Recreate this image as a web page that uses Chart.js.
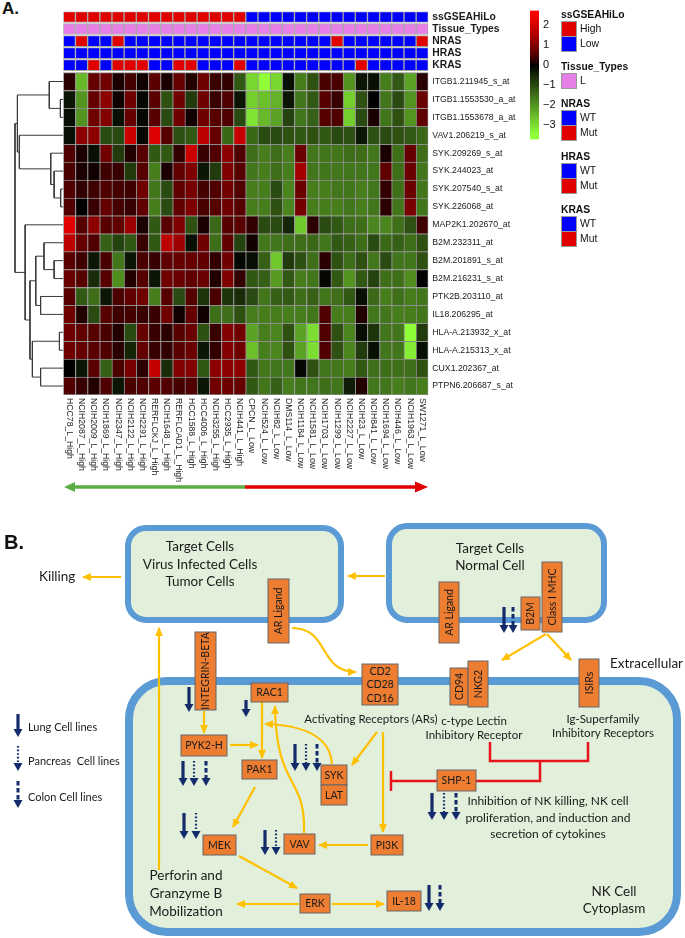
<!DOCTYPE html>
<html>
<head>
<meta charset="utf-8">
<title>ssGSEA heatmap and NK cell signalling</title>
<script src="https://cdn.jsdelivr.net/npm/chart.js@4.4.1/dist/chart.umd.min.js"></script>
<style>
  html, body { margin: 0; padding: 0; background: #fff; }
  body { width: 685px; height: 938px; position: relative; overflow: hidden; font-family: "Liberation Sans", Arial, sans-serif; color: #111; }
  canvas, svg, .abs { position: absolute; }
  #panelA { left: 2px; top: -1px; font: bold 17px "Liberation Sans", Arial, sans-serif; line-height: 20px; }
  .lgTitle { position: absolute; font: bold 10.3px "Liberation Sans", Arial, sans-serif; line-height: 12px; white-space: nowrap; }
  .lgBox { position: absolute; width: 16px; height: 16px; border: 1px solid #9a9a9a; box-sizing: border-box; }
  .lgText { position: absolute; font: 10.4px "Liberation Sans", Arial, sans-serif; line-height: 12px; white-space: nowrap; }
</style>
</head>
<body>
<div id="panelA" class="abs">A.</div>
<canvas id="dendro" width="64" height="500" style="left:0;top:0"></canvas>
<canvas id="heat" width="685" height="500" style="left:0;top:0"></canvas>
<canvas id="scalebar" width="40" height="150" style="left:520px;top:0"></canvas>
<div id="legend"></div>
<svg id="panelB" width="685" height="938" style="left:0;top:0" xmlns="http://www.w3.org/2000/svg"></svg>
<script>
// ---- data ----
const columns = ['HCC78_L_High', 'NCIH2087_L_High', 'NCIH2009_L_High', 'NCIH1869_L_High', 'NCIH2347_L_High',
  'NCIH2122_L_High', 'NCIH2291_L_High', 'RERFLCKJ_L_High', 'NCIH1648_L_High', 'RERFLCAD1_L_High',
  'HCC1588_L_High', 'HCC4006_L_High', 'NCIH3255_L_High', 'HCC2935_L_High', 'NCIH441_L_High',
  'CPCN_L_Low', 'NCIH524_L_Low', 'NCIH82_L_Low', 'DMS114_L_Low', 'NCIH1184_L_Low', 'NCIH1581_L_Low',
  'NCIH1703_L_Low', 'NCIH1299_L_Low', 'NCIH2227_L_Low', 'NCIH23_L_Low', 'NCIH841_L_Low',
  'NCIH1694_L_Low', 'NCIH446_L_Low', 'NCIH1963_L_Low', 'SW1271_L_Low'];

const rowNames = ['ITGB1.211945_s_at', 'ITGB1.1553530_a_at', 'ITGB1.1553678_a_at', 'VAV1.206219_s_at',
  'SYK.209269_s_at', 'SYK.244023_at', 'SYK.207540_s_at', 'SYK.226068_at', 'MAP2K1.202670_at',
  'B2M.232311_at', 'B2M.201891_s_at', 'B2M.216231_s_at', 'PTK2B.203110_at', 'IL18.206295_at',
  'HLA-A.213932_x_at', 'HLA-A.215313_x_at', 'CUX1.202367_at', 'PTPN6.206687_s_at'];

// scaled expression, one list per row (30 cell lines each)
const heatValues = [
  [0.2, -2.5, 0.7, 0.8, 0.1, 0.4, 0.05, 0.6, 0.1, 0.7, 0.15, 0.8, 0.3, 0.25, -1.2, -2.9, -3.5, -2.9, -0.2, -1.7, -1.1, 0.45, 0.45, -2.0, -0.3, -0.2, -1.7, -1.2, -2.2, 0.2],
  [-0.3, -2.0, 0.7, 1.1, 0.05, 0.8, -0.1, 0.6, -1.1, 0.8, -0.8, 0.8, 0.3, 0.5, -0.3, -2.8, -2.6, -2.4, -0.3, -1.6, -1.2, 0.55, 0.3, -2.8, -1.1, 0.0, -1.6, -1.0, -2.0, 0.75],
  [-0.2, -2.0, 0.8, 1.0, -0.2, 0.7, -0.1, 0.55, -1.0, 0.8, 0.05, 0.8, 0.55, 0.5, -1.0, -3.1, -2.5, -2.2, -0.9, -1.6, -1.3, 0.55, 0.5, -2.8, -1.0, 0.1, -1.6, -1.1, -2.0, 0.65],
  [-0.2, 1.1, 1.1, -1.0, -1.0, 1.9, -0.1, 2.1, 0.55, -1.1, -1.2, 1.7, 0.7, -1.4, 1.8, -1.4, -1.0, -1.0, -1.1, -1.2, -1.1, -1.2, -1.0, -1.1, -0.3, -1.1, -1.0, -1.1, -1.2, -1.4],
  [0.5, 0.1, -0.2, 0.8, -0.8, 0.15, 0.55, -1.2, -1.2, 0.25, 1.9, 0.3, 0.5, 1.1, 0.5, -1.5, -1.7, -1.5, -1.7, 0.75, -1.6, -1.6, -1.6, -1.5, -1.5, -1.6, 0.1, -1.5, 0.7, -1.5],
  [0.45, 0.1, 0.05, 0.35, 0.3, -0.8, 0.55, -1.7, 0.1, 0.65, 0.95, -0.3, -0.8, 0.95, 0.55, -1.6, -1.7, -1.5, -1.7, 1.4, -1.6, -1.6, -1.6, -1.6, -1.6, -1.6, 0.65, -1.5, 0.75, -1.6],
  [0.5, 0.25, 0.35, 0.5, 0.4, 0.35, 0.8, -1.6, -1.0, 0.65, 0.9, 0.4, 0.5, 0.85, 0.5, -1.7, -1.7, -1.0, -1.8, 0.75, -1.7, -1.7, -1.6, -1.6, -1.7, -1.6, 0.25, -1.5, 0.75, -1.6],
  [0.5, 0.0, 0.3, 0.7, 0.4, 0.3, 0.65, -1.7, -1.0, 0.65, 0.95, 0.45, 0.55, 0.8, 0.55, -1.7, -1.7, -1.1, -1.8, 0.85, -1.7, -1.7, -1.7, -1.6, -1.7, -1.6, 0.2, -1.6, 0.9, -1.6],
  [2.2, 0.55, 1.1, 0.55, 0.65, 1.3, 0.1, -1.2, 0.6, 0.95, -1.1, 0.1, -1.4, 0.55, 0.6, 0.25, -1.0, -1.0, -0.5, -2.7, 0.2, -1.0, -1.2, -1.5, -1.5, -1.8, -1.8, -1.5, -1.1, 0.35],
  [1.7, 0.7, 0.5, -1.3, -0.9, -1.2, 0.3, -1.2, 1.7, 1.3, -0.2, 0.8, -1.5, 0.65, -0.9, 0.05, -1.6, -1.6, -1.5, -1.5, -1.4, -1.6, -1.2, -1.3, -1.5, -1.0, -1.4, -1.3, -1.5, -1.1],
  [0.6, 0.35, -0.3, 0.45, -1.6, -0.3, 0.45, 0.3, 0.65, 0.7, 0.7, 0.65, 0.25, 0.8, -0.1, -0.2, -1.3, -2.7, -0.8, -1.1, -1.5, 0.2, -1.1, -1.5, -1.1, -1.6, -1.0, -1.6, -1.6, -1.1],
  [0.75, 0.55, -0.6, 0.55, -1.9, 0.15, 0.55, -0.3, 0.8, 0.75, 0.65, 0.75, 0.15, 0.95, 0.25, -1.2, -1.3, -2.1, -1.2, -1.7, -1.6, -0.1, -1.2, -2.0, -1.2, -0.9, -1.5, -1.5, -1.9, 0.0],
  [0.55, -1.2, -1.5, -0.3, 0.45, 0.65, 0.8, -1.7, 0.55, -1.0, 0.55, -0.7, 0.45, -0.7, -0.6, -1.0, -1.6, -1.3, -1.2, -1.5, -1.3, -1.6, -1.5, -1.2, -0.2, -1.4, -1.7, -1.5, -1.7, -1.6],
  [0.8, 0.15, -1.0, 0.55, 0.35, 0.4, 0.3, 0.3, 0.8, 0.05, 0.7, 0.05, -1.5, -1.5, -1.1, -1.7, -1.7, -1.7, -1.7, -1.7, -1.6, 0.5, -1.7, -1.7, 0.15, -1.6, -1.6, -1.7, -1.7, -1.6],
  [0.8, 0.65, 0.55, 0.45, 0.15, -1.0, 0.7, 0.3, 0.2, 0.55, 0.75, -1.1, 0.3, 1.0, 0.8, -2.2, -1.7, -1.8, -1.1, -2.2, -3.0, 0.5, -1.1, -1.8, -0.2, -0.7, -1.6, -1.6, -3.5, -0.8],
  [0.8, 0.7, 0.6, 0.5, 0.2, -0.5, 0.7, 0.3, 0.25, 0.6, 0.75, -0.3, 0.25, 1.0, 0.8, -2.6, -1.7, -1.8, -1.1, -2.2, -3.0, 0.5, -1.1, -1.8, -0.8, -0.2, -1.6, -1.6, -3.2, -0.2],
  [0.0, -0.3, 0.6, -1.3, 0.45, 0.9, 0.2, 1.8, -0.6, 1.0, 1.0, -1.2, 1.1, 1.1, 1.1, -1.2, -1.6, -1.6, -1.6, -0.1, -1.1, -1.6, -1.6, -1.7, -1.2, -1.5, -1.5, -1.5, -1.5, -1.1],
  [0.5, 0.3, 0.15, 0.5, -0.3, 0.45, 0.5, 0.6, 0.5, 0.4, 0.5, -0.3, 0.8, 0.8, 0.7, -1.2, -1.6, -1.3, -1.7, -1.6, -1.6, -1.5, -1.6, -0.4, 0.15, -1.6, -1.6, -1.7, -1.6, -1.7]
];

// column annotations
const ssGSEAHiLo = columns.map(c => c.endsWith('High') ? 'High' : 'Low');
const tissueTypes = columns.map(() => 'L');
const nrasMutIdx = [1, 4, 22, 29];
const hrasMutIdx = [];
const krasMutIdx = [2, 4, 5, 6, 9, 10, 14, 24];

// row dendrogram, hclust style: negative = row (1-based), positive = earlier merge (1-based); third = height
const dendroMerge = [
  [-2, -3, 0.6], [-1, 1, 2.9], [-7, -8, 0.55], [-6, 3, 1.9], [-5, 4, 2.6], [-4, 5, 9.1], [2, 6, 9.5],
  [-15, -16, 0.8], [-11, -12, 1.9], [-10, 9, 4.0], [-13, -14, 4.7], [10, 11, 5.7], [-17, -18, 4.7],
  [8, 13, 6.4], [12, 14, 6.9], [-9, 15, 7.9], [7, 16, 10]
];

const scaleMin = -3.7, scaleMax = 2.7;
const scaleTicks = [2, 1, 0, -1, -2, -3];

// ---- styling ----
const RED = '#e00000', BLUE = '#0000ff', PINK = '#e67fe6';
const LABEL_FONT = '"Liberation Sans", Arial, sans-serif';

function cellColor(v) {
  if (v >= 0) {
    const t = Math.min(v / 2.6, 1);
    return `rgb(${Math.round(255 * Math.pow(t, 0.7))},0,0)`;
  }
  const g = Math.min(255, 74 * -v);
  return `rgb(${Math.round(g * 0.56)},${Math.round(g)},${Math.round(g * 0.22)})`;
}

// ---- heatmap as stacked bars ----
const ROW_H = 1, ANN_H = 0.615, ANN_GAP = 0.056, BLOCK_GAP = 0.11;
const datasets = [];
const tickDefs = [];
let base = 0;

for (let r = rowNames.length - 1; r >= 0; r--) {
  const bottomRow = r === rowNames.length - 1;
  datasets.push({
    label: rowNames[r],
    data: columns.map(() => ROW_H),
    backgroundColor: heatValues[r].map(cellColor),
    borderColor: '#8e8e8e',
    borderWidth: c => ({ top: 1, left: 1, right: c.dataIndex === columns.length - 1 ? 1 : 0, bottom: bottomRow ? 1 : 0 }),
    borderSkipped: false
  });
  tickDefs.push({ value: base + ROW_H / 2, name: rowNames[r], bold: false });
  base += ROW_H;
}

function spacer(h) {
  datasets.push({ label: '', data: columns.map(() => h), backgroundColor: 'rgba(0,0,0,0)', borderWidth: 0 });
  base += h;
}

const annotations = [ // bottom to top
  { name: 'KRAS', colors: columns.map((c, i) => krasMutIdx.includes(i) ? RED : BLUE) },
  { name: 'HRAS', colors: columns.map((c, i) => hrasMutIdx.includes(i) ? RED : BLUE) },
  { name: 'NRAS', colors: columns.map((c, i) => nrasMutIdx.includes(i) ? RED : BLUE) },
  { name: 'Tissue_Types', colors: tissueTypes.map(() => PINK) },
  { name: 'ssGSEAHiLo', colors: ssGSEAHiLo.map(v => v === 'High' ? RED : BLUE) }
];
annotations.forEach((a, k) => {
  spacer(k === 0 ? BLOCK_GAP : ANN_GAP);
  datasets.push({
    label: a.name,
    data: columns.map(() => ANN_H),
    backgroundColor: a.colors,
    borderColor: '#a6a6a6',
    borderWidth: 1,
    borderSkipped: false
  });
  tickDefs.push({ value: base + ANN_H / 2, name: a.name, bold: true });
  base += ANN_H;
});
const total = base;

const colLabels = {
  id: 'colLabels',
  afterDraw(chart) {
    const { ctx, chartArea } = chart;
    const x = chart.scales.x;
    ctx.save();
    ctx.font = '8.7px ' + LABEL_FONT;
    ctx.fillStyle = '#1e1e1e';
    ctx.textAlign = 'left';
    ctx.textBaseline = 'middle';
    columns.forEach((c, i) => {
      ctx.save();
      ctx.translate(x.getPixelForValue(i), chartArea.bottom + 3);
      ctx.rotate(Math.PI / 2);
      ctx.fillText(c, 0, 0);
      ctx.restore();
    });
    ctx.restore();
  }
};

new Chart(document.getElementById('heat'), {
  type: 'bar',
  data: { labels: columns, datasets },
  options: {
    responsive: false,
    animation: false,
    events: [],
    layout: { padding: { left: 63.3, top: 11.5, right: 685 - 428.3 - 110, bottom: 105 } },
    datasets: { bar: { categoryPercentage: 1, barPercentage: 1 } },
    plugins: { legend: { display: false }, tooltip: { enabled: false }, colors: { enabled: false } },
    scales: {
      x: { stacked: true, display: false },
      y: {
        stacked: true, position: 'right', min: 0, max: total,
        grid: { display: false, drawTicks: false },
        border: { display: false },
        afterBuildTicks: s => { s.ticks = tickDefs.map(t => ({ value: t.value, name: t.name, bold: t.bold })); },
        afterFit: s => { s.width = 110; },
        ticks: {
          autoSkip: false,
          padding: 4,
          color: '#1a1a1a',
          callback: (v, i, ticks) => ticks[i].name,
          font: c => (c.tick && c.tick.bold)
            ? { family: LABEL_FONT, size: 10.3, weight: 'bold' }
            : { family: LABEL_FONT, size: 8.7 }
        }
      }
    }
  },
  plugins: [colLabels]
});

// ---- dendrogram ----
const nodes = [];
function nodePos(ref) {
  if (ref < 0) return { y: rowNames.length - (-ref - 1) - 0.5, h: 0 };
  return nodes[ref - 1];
}
const dendroSets = dendroMerge.map(([a, b, h]) => {
  const A = nodePos(a), B = nodePos(b);
  nodes.push({ y: (A.y + B.y) / 2, h });
  return {
    data: [{ x: A.h, y: A.y }, { x: h, y: A.y }, { x: h, y: B.y }, { x: B.h, y: B.y }],
    showLine: true, borderColor: '#3a3a3a', borderWidth: 1, pointRadius: 0, clip: false
  };
});
const rootH = dendroMerge[dendroMerge.length - 1][2];

new Chart(document.getElementById('dendro'), {
  type: 'scatter',
  data: { datasets: dendroSets },
  options: {
    responsive: false, animation: false, events: [],
    layout: { padding: { left: 15, right: 0.7, top: 11.5, bottom: 105 } },
    plugins: { legend: { display: false }, tooltip: { enabled: false } },
    scales: {
      x: { type: 'linear', reverse: true, min: 0, max: rootH, display: false },
      y: { type: 'linear', min: 0, max: total, display: false }
    }
  }
});

// ---- colour key ----
new Chart(document.getElementById('scalebar'), {
  type: 'bar',
  data: {
    labels: ['key'],
    datasets: [{
      data: [[scaleMin, scaleMax]],
      borderWidth: 0,
      categoryPercentage: 1,
      barPercentage: 1,
      backgroundColor: c => {
        const ch = c.chart, y = ch.scales.y;
        if (!ch.chartArea || !y) return '#000';
        const g = ch.ctx.createLinearGradient(0, y.getPixelForValue(scaleMax), 0, y.getPixelForValue(scaleMin));
        for (let i = 0; i <= 64; i++) {
          g.addColorStop(i / 64, cellColor(scaleMax - (scaleMax - scaleMin) * i / 64));
        }
        return g;
      }
    }]
  },
  options: {
    responsive: false, animation: false, events: [],
    layout: { padding: { left: 10, top: 9, bottom: 9, right: 0 } },
    plugins: { legend: { display: false }, tooltip: { enabled: false } },
    scales: {
      x: { display: false },
      y: {
        position: 'right', min: scaleMin, max: scaleMax,
        grid: { display: false, drawTicks: false }, border: { display: false },
        afterBuildTicks: s => { s.ticks = scaleTicks.map(v => ({ value: v })); },
        afterFit: s => { s.width = 21; },
        ticks: {
          padding: 4, color: '#111', font: { family: LABEL_FONT, size: 11 },
          callback: v => v < 0 ? '\u2212' + Math.abs(v) : String(v)
        }
      }
    }
  }
});

// ---- annotation legend ----
const legendGroups = [
  { title: 'ssGSEAHiLo', top: 15, items: [['High', RED], ['Low', BLUE]] },
  { title: 'Tissue_Types', top: 67, items: [['L', PINK]] },
  { title: 'NRAS', top: 104, items: [['WT', BLUE], ['Mut', RED]] },
  { title: 'HRAS', top: 157, items: [['WT', BLUE], ['Mut', RED]] },
  { title: 'KRAS', top: 210, items: [['WT', BLUE], ['Mut', RED]] }
];
const legendEl = document.getElementById('legend');
let lg = '';
legendGroups.forEach(g => {
  lg += `<div class="lgTitle" style="left:561px;top:${g.top - 6}px">${g.title}</div>`;
  g.items.forEach(([name, col], k) => {
    const y = g.top + 6 + k * 15;
    lg += `<div class="lgBox" style="left:561px;top:${y}px;background:${col}"></div>`;
    lg += `<div class="lgText" style="left:580px;top:${y + 2}px">${name}</div>`;
  });
});
legendEl.innerHTML = lg;

// ---- panel B schematic ----
const NAVY = '#132a6b', YEL = '#ffc000', INH = '#e8141c', ORANGE = '#ed7d31';
const TXT = 'font-family="Lato, \'Open Sans\', sans-serif"';
let s = `<defs><marker id="ya" viewBox="0 0 10 10" refX="9" refY="5" markerWidth="4" markerHeight="4" orient="auto"><path d="M0,0.5 L10,5 L0,9.5 z" fill="${YEL}"/></marker></defs>`;

// panel A direction arrow
s += `<line x1="72" y1="487" x2="245" y2="487" stroke="#5aac44" stroke-width="3.5"/>`;
s += `<polygon points="64,487 75,482 75,492" fill="#5aac44"/>`;
s += `<line x1="245" y1="487" x2="418" y2="487" stroke="${RED}" stroke-width="3.5"/>`;
s += `<polygon points="428,487 415,481.5 415,492.5" fill="${RED}"/>`;

s += `<text x="4" y="549" font-family="'Liberation Sans', Arial" font-weight="bold" font-size="20" fill="#111">B.</text>`;

// cell outlines
s += `<rect x="128" y="528" width="213" height="92" rx="18" fill="#e2efda" stroke="#5b9bd5" stroke-width="6"/>`;
s += `<rect x="389" y="526" width="215" height="94" rx="18" fill="#e2efda" stroke="#5b9bd5" stroke-width="6"/>`;
s += `<rect x="129" y="681" width="548" height="251" rx="38" fill="#e2efda" stroke="#5b9bd5" stroke-width="8"/>`;

function text(x, y, str, size, anchor) {
  return `<text x="${x}" y="${y}" ${TXT} font-size="${size}" fill="#1a1a1a" text-anchor="${anchor || 'middle'}">${str}</text>`;
}
function yArrow(d) {
  return `<path d="${d}" fill="none" stroke="${YEL}" stroke-width="2.2" marker-end="url(#ya)"/>`;
}
function box(x, y, w, h, lines, vertical) {
  let out = `<rect x="${x}" y="${y}" width="${w}" height="${h}" fill="${ORANGE}" stroke="#666" stroke-width="1"/>`;
  if (vertical) {
    out += `<text transform="translate(${x + w / 2 + 3.6},${y + h / 2}) rotate(-90)" ${TXT} font-size="10.5" fill="#1a1a1a" text-anchor="middle">${lines[0]}</text>`;
  } else {
    const step = 13.2, top = y + h / 2 - (lines.length - 1) * step / 2;
    lines.forEach((l, i) => { out += `<text x="${x + w / 2}" y="${top + i * step + 3.8}" ${TXT} font-size="10.5" fill="#1a1a1a" text-anchor="middle">${l}</text>`; });
  }
  return out;
}
function navy(x, y1, y2, kind) {
  const w = kind === 'solid' ? 3.2 : kind === 'dotted' ? 2.2 : 3;
  const dash = kind === 'solid' ? '' : kind === 'dotted' ? 'stroke-dasharray="1.6 2"' : 'stroke-dasharray="4.5 2.5"';
  return `<line x1="${x}" y1="${y1}" x2="${x}" y2="${y2 - 7}" stroke="${NAVY}" stroke-width="${w}" ${dash}/>` +
    `<path d="M${x - 4.5},${y2 - 8} L${x + 4.5},${y2 - 8} L${x},${y2} z" fill="${NAVY}"/>`;
}

s += text(200, 551, 'Target Cells', 13.5) + text(200, 569, 'Virus Infected Cells', 13.5) + text(200, 586, 'Tumor Cells', 13.5);
s += text(490, 553, 'Target Cells', 13.5) + text(490, 570, 'Normal Cell', 13.5);
s += text(39, 581, 'Killing', 13.5, 'start');
s += text(610, 668, 'Extracellular', 13.5, 'start');
s += text(371, 723, 'Activating Receptors (ARs)', 11.5);
s += text(474, 725, 'c-type Lectin', 11.5) + text(474, 739, 'Inhibitory Receptor', 11.5);
s += text(603, 723, 'Ig-Superfamily', 11.5) + text(603, 737, 'Inhibitory Receptors', 11.5);
s += text(548, 805, 'Inhibition of NK killing, NK cell', 12) + text(548, 822, 'proliferation, and induction and', 12) + text(548, 838, 'secretion of cytokines', 12);
s += text(186, 880, 'Perforin and', 13.5) + text(186, 898, 'Granzyme B', 13.5) + text(186, 916, 'Mobilization', 13.5);
s += text(614, 896, 'NK Cell', 13.5) + text(614, 913, 'Cytoplasm', 13.5);
s += text(28, 731, 'Lung Cell lines', 11, 'start') + text(28, 765, 'Pancreas&#160; Cell lines', 11, 'start') + text(28, 801, 'Colon Cell lines', 11, 'start');

// yellow arrows
s += yArrow('M121,577 L83,577') + yArrow('M385,576 L348,576');
s += yArrow('M546,634 L502,660') + yArrow('M547,634 L571,660');
s += yArrow('M292,628 C330,628 318,672 356,672');
s += yArrow('M159,870 L159,628');
s += yArrow('M204,711 L204,733');
s += yArrow('M230,745 L258,745');
s += yArrow('M262,702 L262,758');
s += yArrow('M255,787 L233,827');
s += yArrow('M304,833 C306,775 276,790 275,706');
s += yArrow('M332,764 C330,735 300,725 265,724');
s += yArrow('M377,732 L352,765');
s += yArrow('M383,732 L383,832');
s += yArrow('M368,845 L319,845');
s += yArrow('M239,856 L297,888');
s += yArrow('M299,904 L237,904');
s += yArrow('M332,904 L384,904');

// inhibitory lines
s += `<polyline points="490,742 490,761 588,761 588,742" fill="none" stroke="${INH}" stroke-width="2.5"/>`;
s += `<polyline points="540,761 540,781 391,781" fill="none" stroke="${INH}" stroke-width="2.5"/>`;
s += `<line x1="391" y1="771" x2="391" y2="791" stroke="${INH}" stroke-width="2.5"/>`;

// molecules
s += box(268, 579, 21, 64, ['AR Ligand'], true);
s += box(439, 582, 20, 61, ['AR Ligand'], true);
s += box(521, 597, 19, 33, ['B2M'], true);
s += box(542, 562, 20, 70, ['Class I MHC'], true);
s += box(195, 632, 21, 78, ['INTEGRIN-BETA'], true);
s += box(362, 664, 36, 41, ['CD2', 'CD28', 'CD16'], false);
s += box(450, 668, 18, 37, ['CD94'], true);
s += box(468, 661, 20, 46, ['NKG2'], true);
s += box(579, 659, 20, 48, ['ISIRs'], true);
s += box(251, 683, 37, 19, ['RAC1']);
s += box(181, 735, 46, 21, ['PYK2-H']);
s += box(242, 760, 35, 19, ['PAK1']);
s += box(321, 765, 26, 20, ['SYK']);
s += box(321, 785, 26, 20, ['LAT']);
s += box(437, 770, 39, 21, ['SHP-1']);
s += box(203, 835, 33, 20, ['MEK']);
s += box(284, 834, 31, 20, ['VAV']);
s += box(371, 835, 32, 20, ['PI3K']);
s += box(300, 894, 30, 19, ['ERK']);
s += box(387, 891, 34, 20, ['IL-18']);

// down-regulation markers
const navyMarks = [
  [504, 607, 633, 'solid'], [513, 607, 633, 'dashed'],
  [189, 687, 712, 'solid'], [246, 700, 717, 'solid'],
  [183, 761, 786, 'solid'], [194, 761, 786, 'dotted'], [206, 761, 786, 'dashed'],
  [184, 813, 839, 'solid'], [196, 813, 839, 'dotted'],
  [295, 744, 771, 'solid'], [306, 744, 771, 'dotted'], [317, 744, 771, 'dashed'],
  [265, 830, 855, 'solid'], [276, 830, 855, 'dotted'],
  [432, 793, 820, 'solid'], [444, 793, 820, 'dotted'], [456, 793, 820, 'dashed'],
  [429, 885, 911, 'solid'], [440, 885, 911, 'dashed'],
  [18, 714, 737, 'solid'], [18, 746, 771, 'dotted'], [18, 781, 808, 'dashed']
];
navyMarks.forEach(m => { s += navy(...m); });

document.getElementById('panelB').innerHTML = s;
</script>
</body>
</html>
